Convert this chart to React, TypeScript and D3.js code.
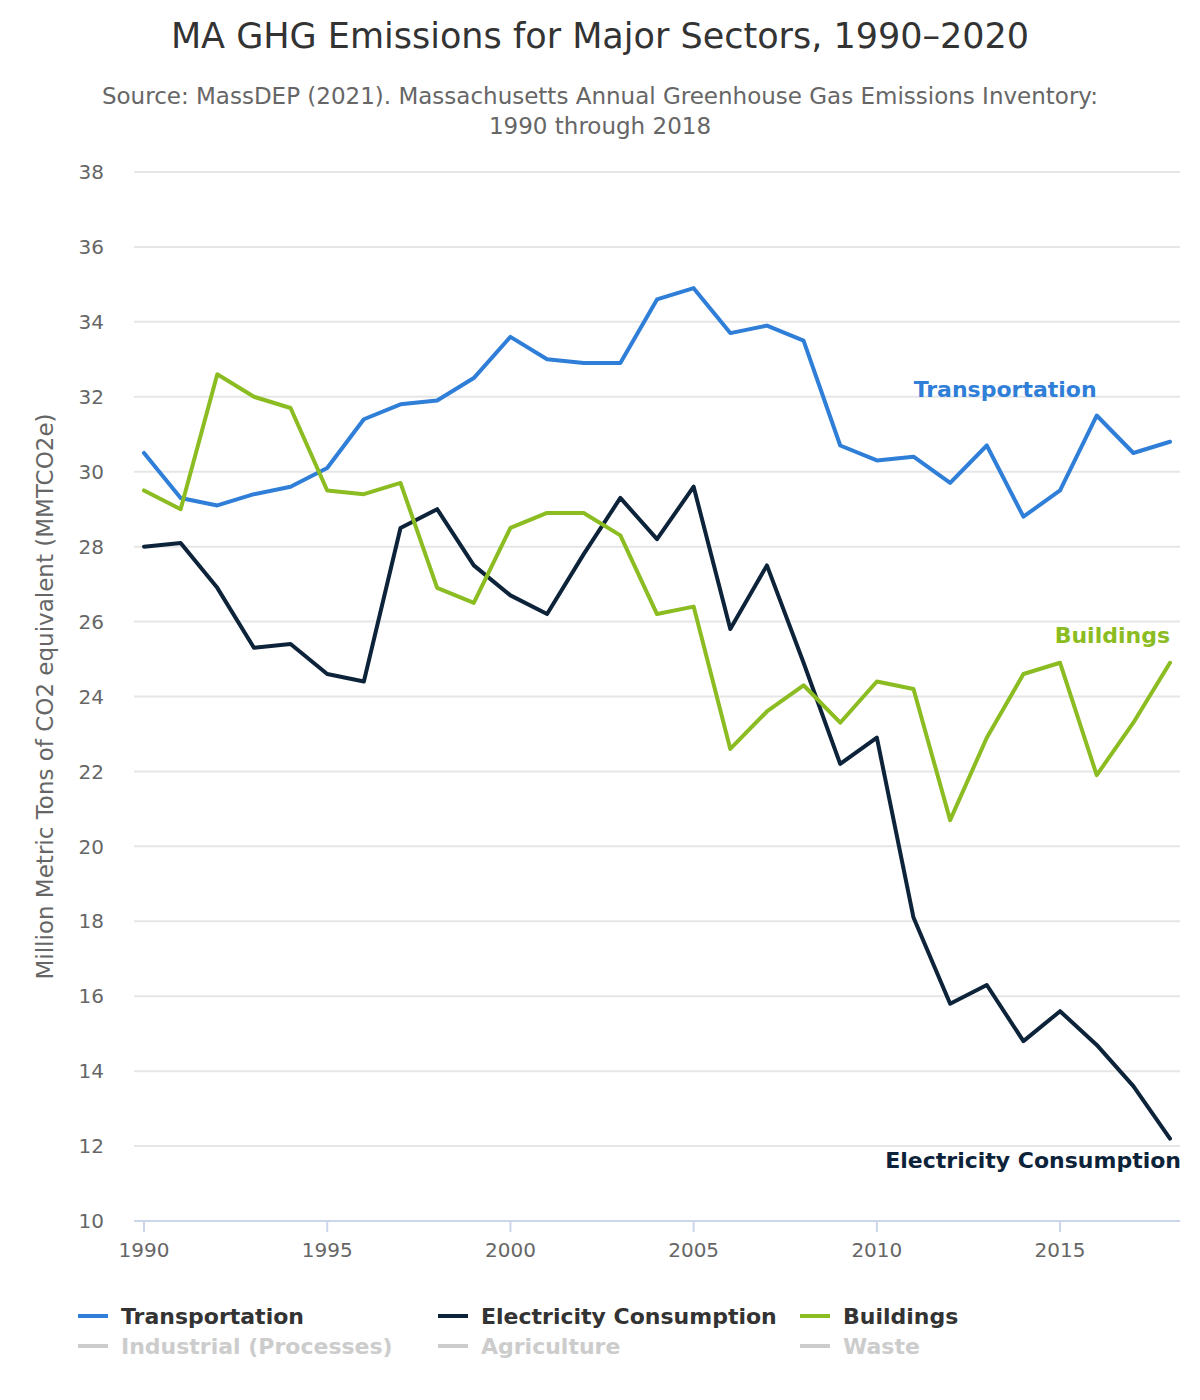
import React from "react";
import * as d3 from "d3";

const years = d3.range(1990, 2019);
const transportation = [30.5, 29.3, 29.1, 29.4, 29.6, 30.1, 31.4, 31.8, 31.9, 32.5, 33.6, 33.0, 32.9, 32.9, 34.6, 34.9, 33.7, 33.9, 33.5, 30.7, 30.3, 30.4, 29.7, 30.7, 28.8, 29.5, 31.5, 30.5, 30.8];
const electricity = [28.0, 28.1, 26.9, 25.3, 25.4, 24.6, 24.4, 28.5, 29.0, 27.5, 26.7, 26.2, 27.8, 29.3, 28.2, 29.6, 25.8, 27.5, 24.9, 22.2, 22.9, 18.1, 15.8, 16.3, 14.8, 15.6, 14.7, 13.6, 12.2];
const buildings = [29.5, 29.0, 32.6, 32.0, 31.7, 29.5, 29.4, 29.7, 26.9, 26.5, 28.5, 28.9, 28.9, 28.3, 26.2, 26.4, 22.6, 23.6, 24.3, 23.3, 24.4, 24.2, 20.7, 22.9, 24.6, 24.9, 21.9, 23.3, 24.9];

const yTicks = d3.range(10, 39, 2);
const xTicks = [1990, 1995, 2000, 2005, 2010, 2015];

const seriesNames = ["Transportation", "Electricity Consumption", "Buildings"];
const seriesColors = ["#2f7ed8", "#0d233a", "#8bbc21"];
const hiddenNames = ["Industrial (Processes)", "Agriculture", "Waste"];

// Direct labels: [year, value, anchor]
const labelYears = [2013.5, 2018.3, 2018];
const labelValues = [32.0, 11.41, 25.43];
const labelAnchors = ["middle", "end", "end"];

const FONT = "'DejaVu Sans', sans-serif";

export default function App() {
  const width = 1200;
  const height = 1400;
  const plotLeft = 134;
  const plotRight = 1180;
  const x = d3.scaleLinear().domain([1990, 2018]).range([144, 1170]);
  const y = d3.scaleLinear().domain([10, 38]).range([1221, 172]);

  const data = [transportation, electricity, buildings];
  const line = d3
    .line<number>()
    .x((_, i) => x(years[i]))
    .y((d) => y(d));

  const legendCols = [78, 438, 800];
  const legendRows = [1316, 1346];

  return (
    <svg width={width} height={height} style={{ display: "block", position: "absolute", left: 0, top: 0, fontFamily: FONT }}>
      <rect width={width} height={height} fill="#ffffff" />
      <text x={600} y={48} textAnchor="middle" fontSize={35} fill="#333333">
        MA GHG Emissions for Major Sectors, 1990–2020
      </text>
      <text x={600} y={104} textAnchor="middle" fontSize={23} fill="#666666">
        Source: MassDEP (2021). Massachusetts Annual Greenhouse Gas Emissions Inventory:
      </text>
      <text x={600} y={134} textAnchor="middle" fontSize={23} fill="#666666">
        1990 through 2018
      </text>

      {yTicks.map((t) => (
        <g key={t}>
          {t !== 10 && (
            <line x1={plotLeft} x2={plotRight} y1={y(t)} y2={y(t)} stroke="#e6e6e6" strokeWidth={2} />
          )}
          <text x={104} y={y(t)} dy="0.36em" textAnchor="end" fontSize={20} fill="#666666">
            {t}
          </text>
        </g>
      ))}

      <line x1={plotLeft} x2={plotRight} y1={y(10)} y2={y(10)} stroke="#ccd6eb" strokeWidth={2} />
      {xTicks.map((t) => (
        <g key={t}>
          <line x1={x(t)} x2={x(t)} y1={y(10)} y2={y(10) + 11} stroke="#ccd6eb" strokeWidth={2} />
          <text x={x(t)} y={1257} textAnchor="middle" fontSize={20} fill="#666666">
            {t}
          </text>
        </g>
      ))}

      <text
        transform={`translate(53, ${(y(10) + y(38)) / 2}) rotate(-90)`}
        textAnchor="middle"
        fontSize={23}
        fill="#666666"
      >
        Million Metric Tons of CO2 equivalent (MMTCO2e)
      </text>

      {data.map((d, i) => (
        <path
          key={i}
          d={line(d) || ""}
          fill="none"
          stroke={seriesColors[i]}
          strokeWidth={4}
          strokeLinejoin="round"
          strokeLinecap="round"
        />
      ))}

      {seriesNames.map((n, i) => (
        <text
          key={n}
          x={x(labelYears[i])}
          y={y(labelValues[i])}
          textAnchor={labelAnchors[i] as any}
          fontSize={22}
          fontWeight="bold"
          fill={seriesColors[i]}
        >
          {n}
        </text>
      ))}

      {seriesNames.map((n, i) => (
        <g key={n} transform={`translate(${legendCols[i]}, ${legendRows[0]})`}>
          <line x1={0} x2={30} y1={0} y2={0} stroke={seriesColors[i]} strokeWidth={4} />
          <text x={43} y={0} dy="0.36em" fontSize={22} fontWeight="bold" fill="#333333">
            {n}
          </text>
        </g>
      ))}
      {hiddenNames.map((n, i) => (
        <g key={n} transform={`translate(${legendCols[i]}, ${legendRows[1]})`}>
          <line x1={0} x2={30} y1={0} y2={0} stroke="#cccccc" strokeWidth={4} />
          <text x={43} y={0} dy="0.36em" fontSize={22} fontWeight="bold" fill="#cccccc">
            {n}
          </text>
        </g>
      ))}
    </svg>
  );
}
